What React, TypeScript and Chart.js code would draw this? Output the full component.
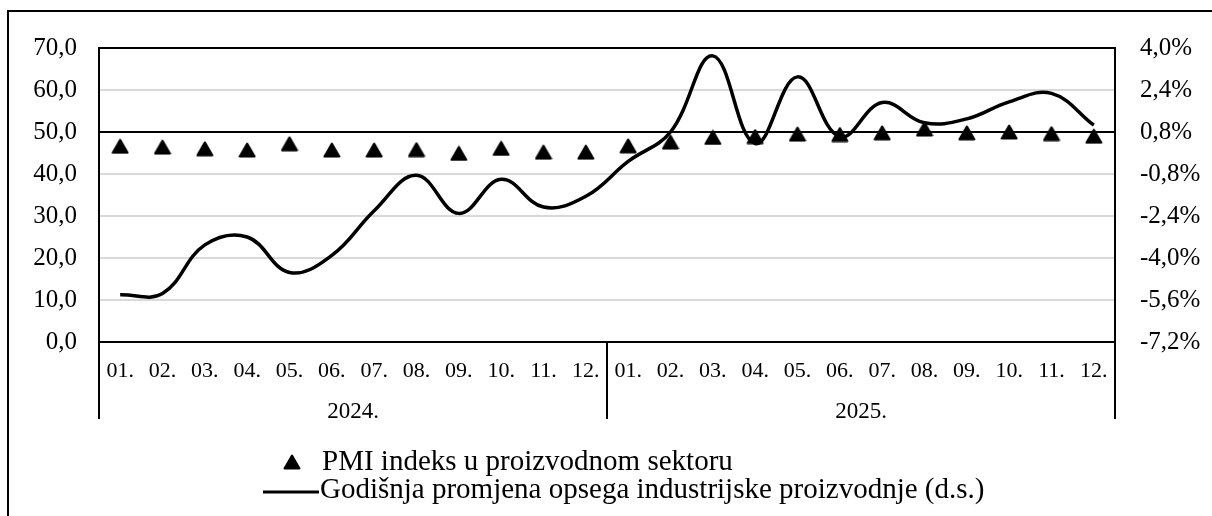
import { useEffect, useRef } from 'react';
import { Chart, registerables } from 'chart.js';

Chart.register(...registerables);

const months = ['01.', '02.', '03.', '04.', '05.', '06.', '07.', '08.', '09.', '10.', '11.', '12.',
  '01.', '02.', '03.', '04.', '05.', '06.', '07.', '08.', '09.', '10.', '11.', '12.'];
const years = ['2024.', '2025.'];
const pmiValues = [46.6, 46.4, 46.0, 45.7, 47.2, 45.7, 45.7, 45.8, 44.9, 46.1, 45.2, 45.2,
  46.7, 47.6, 48.7, 48.9, 49.5, 49.4, 49.8, 50.7, 49.8, 50.0, 49.6, 49.0];
const productionChange = [-5.4, -5.35, -3.5, -3.2, -4.55, -3.9, -2.2, -0.85, -2.3, -1.0, -2.06, -1.65,
  -0.32, 0.8, 3.7, 0.36, 2.9, 0.62, 1.92, 1.15, 1.3, 1.95, 2.27, 1.06];
const leftTicks = [0, 10, 20, 30, 40, 50, 60, 70];
const rightTicks = [-7.2, -5.6, -4.0, -2.4, -0.8, 0.8, 2.4, 4.0];
const legendLabels = ['PMI indeks u proizvodnom sektoru', 'Godišnja promjena opsega industrijske proizvodnje (d.s.)'];

const FONT = '"Liberation Serif", "Times New Roman", serif';

function makeTriangle(): HTMLCanvasElement {
  const c = document.createElement('canvas');
  c.width = 18;
  c.height = 16;
  const g = c.getContext('2d')!;
  g.fillStyle = '#000';
  g.strokeStyle = '#000';
  g.lineWidth = 2;
  g.lineJoin = 'round';
  g.beginPath();
  g.moveTo(9, 1.5);
  g.lineTo(16.5, 14.5);
  g.lineTo(1.5, 14.5);
  g.closePath();
  g.fill();
  g.stroke();
  return c;
}

export default function App() {
  const ref = useRef<HTMLCanvasElement | null>(null);

  useEffect(() => {
    if (!ref.current) return;
    const tri = makeTriangle();

    const decor = {
      id: 'decor',
      afterDraw(chart: any) {
        const { ctx, chartArea, scales } = chart;
        const x2 = scales.x2;
        ctx.save();
        ctx.strokeStyle = '#000';
        ctx.lineWidth = 2;
        // outer frame
        ctx.beginPath();
        ctx.moveTo(8, chart.height + 10);
        ctx.lineTo(8, 11);
        ctx.lineTo(chart.width + 10, 11);
        ctx.stroke();
        // category group separators
        const half = (x2.getPixelForValue(1) - x2.getPixelForValue(0)) / 2;
        const bounds: number[] = [];
        for (let i = 0; i < years.length; i++) bounds.push(x2.getPixelForValue(i) - half);
        bounds.push(x2.getPixelForValue(years.length - 1) + half);
        ctx.beginPath();
        bounds.forEach((bx) => {
          const px = Math.round(bx);
          ctx.moveTo(px, chartArea.bottom);
          ctx.lineTo(px, x2.bottom);
        });
        ctx.stroke();
        // legend
        ctx.fillStyle = '#000';
        ctx.font = `29px ${FONT}`;
        ctx.textBaseline = 'alphabetic';
        ctx.textAlign = 'left';
        ctx.drawImage(tri, 292 - tri.width / 2, 462 - tri.height / 2);
        ctx.fillText(legendLabels[0], 322, 470);
        ctx.lineWidth = 3;
        ctx.beginPath();
        ctx.moveTo(263, 492);
        ctx.lineTo(319, 492);
        ctx.stroke();
        ctx.fillText(legendLabels[1], 320, 498);
        ctx.restore();
      },
    };

    const chart = new Chart(ref.current, {
      type: 'line',
      data: {
        labels: months,
        datasets: [
          {
            label: legendLabels[0],
            data: pmiValues,
            yAxisID: 'y',
            xAxisID: 'x',
            showLine: false,
            pointStyle: tri as any,
            pointRadius: 9,
            borderColor: '#000',
            backgroundColor: '#000',
            order: 2,
          },
          {
            label: legendLabels[1],
            data: productionChange,
            yAxisID: 'y1',
            xAxisID: 'x',
            borderColor: '#000',
            borderWidth: 3.5,
            pointRadius: 0,
            tension: 0.4,
            fill: false,
            order: 1,
          },
        ],
      },
      options: {
        responsive: false,
        animation: false,
        devicePixelRatio: 1,
        layout: { padding: { left: 0, right: 0, top: 48, bottom: 97 } },
        plugins: { legend: { display: false }, tooltip: { enabled: false } },
        scales: {
          x: {
            type: 'category',
            position: 'bottom',
            weight: 0,
            offset: true,
            clip: false,
            grid: { display: false },
            border: { display: true, color: '#000', width: 2 },
            ticks: {
              autoSkip: false,
              maxRotation: 0,
              minRotation: 0,
              padding: 8,
              color: '#000',
              font: { family: FONT, size: 22 },
            },
            afterFit(s: any) { s.height = 46; },
          },
          x2: {
            type: 'category',
            position: 'bottom',
            weight: 1,
            offset: true,
            clip: false,
            labels: years,
            grid: { display: false },
            border: { display: false },
            ticks: {
              autoSkip: false,
              maxRotation: 0,
              padding: 2,
              color: '#000',
              font: { family: FONT, size: 23 },
            },
            afterFit(s: any) { s.height = 31; },
          },
          y: {
            type: 'linear',
            position: 'left',
            min: 0,
            max: 70,
            afterBuildTicks(s: any) { s.ticks = leftTicks.map((v) => ({ value: v })); },
            grid: {
              drawTicks: false,
              lineWidth: 2,
              color: (c: any) => (c.tick && (c.tick.value === 50 || c.tick.value === 70) ? '#000' : '#d9d9d9'),
            },
            border: { display: true, color: '#000', width: 2 },
            ticks: {
              padding: 22,
              color: '#000',
              font: { family: FONT, size: 25 },
              callback: (v: any) => Number(v).toFixed(1).replace('.', ','),
            },
            afterFit(s: any) { s.width = 99; },
          },
          y1: {
            type: 'linear',
            position: 'right',
            min: -7.2,
            max: 4.0,
            afterBuildTicks(s: any) { s.ticks = rightTicks.map((v) => ({ value: v })); },
            grid: { display: false, drawTicks: false },
            border: { display: true, color: '#000', width: 2 },
            ticks: {
              padding: 25,
              color: '#000',
              font: { family: FONT, size: 25 },
              callback: (v: any) => Number(v).toFixed(1).replace('.', ',') + '%',
            },
            afterFit(s: any) { s.width = 97; },
          },
        },
      },
      plugins: [decor],
    });
    return () => chart.destroy();
  }, []);

  return (
    <div style={{ position: 'fixed', left: 0, top: 0, width: 1212, height: 516, overflow: 'hidden', background: '#fff' }}>
      <canvas ref={ref} width={1212} height={516} style={{ display: 'block' }} />
    </div>
  );
}
